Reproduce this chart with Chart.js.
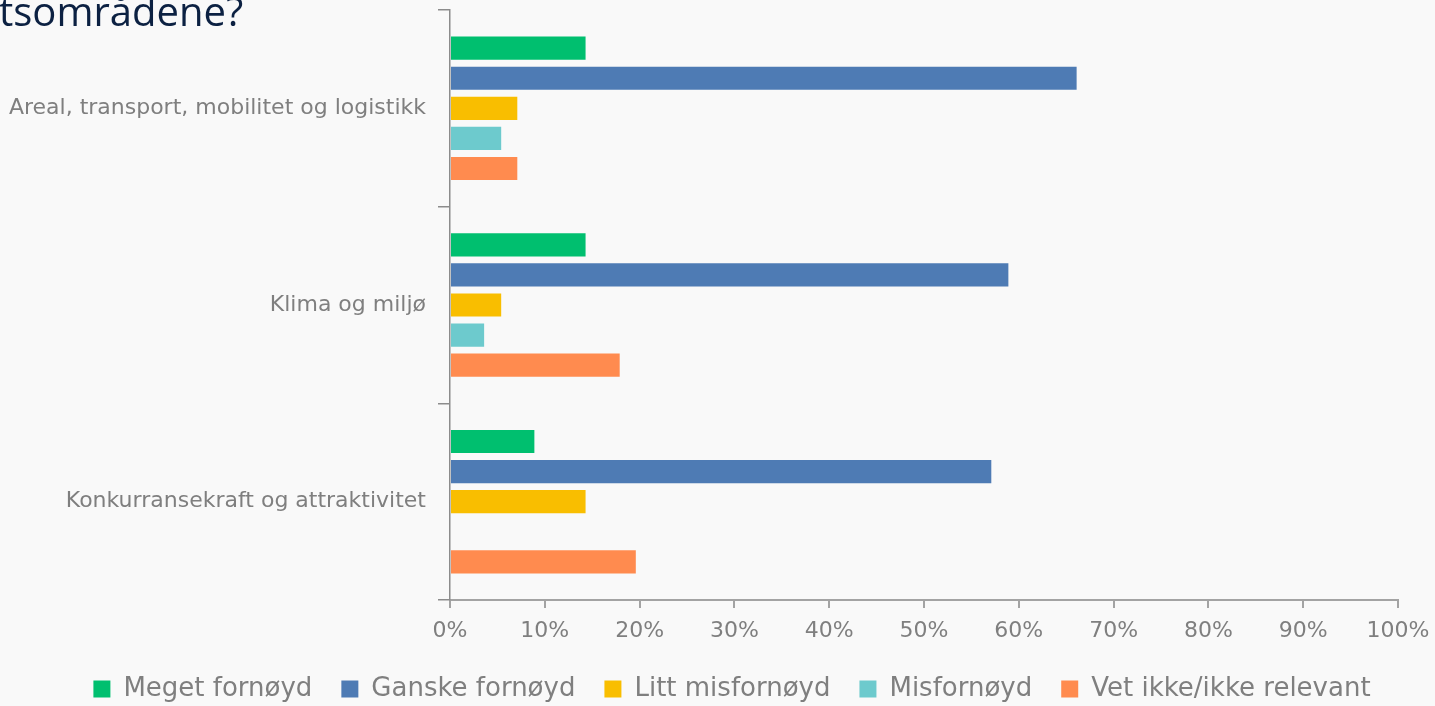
<!DOCTYPE html>
<html>
<head>
<meta charset="utf-8">
<script src="https://cdn.jsdelivr.net/npm/chart.js@4"></script>
<style>
    html, body { margin: 0; padding: 0; background: #f9f9f9; overflow: hidden; }
    #wrap { position: relative; width: 1435px; height: 706px; }
    #title {
        position: absolute; left: -1px; top: -17px;
        font-family: "Open Sans", sans-serif; font-size: 40px; color: #0c2142;
        white-space: nowrap;
    }
</style>
</head>
<body>
<div id="wrap">
    <canvas id="surveyChart" width="1435" height="706"></canvas>
    <div id="title">tsområdene?</div>
</div>
<script>
const categories = ['Areal, transport, mobilitet og logistikk', 'Klima og miljø', 'Konkurransekraft og attraktivitet'];
const seriesNames = ['Meget fornøyd', 'Ganske fornøyd', 'Litt misfornøyd', 'Misfornøyd', 'Vet ikke/ikke relevant'];
const megetFornoyd = [14.3, 14.3, 8.9];
const ganskeFornoyd = [66.1, 58.9, 57.1];
const littMisfornoyd = [7.1, 5.4, 14.3];
const misfornoyd = [5.4, 3.6, 0];
const vetIkke = [7.1, 17.9, 19.6];
const xTicks = [0, 10, 20, 30, 40, 50, 60, 70, 80, 90, 100];

const colors = ['#00bf6f', '#4e7bb4', '#f9be00', '#6dcacd', '#ff8b4f'];
const seriesValues = [megetFornoyd, ganskeFornoyd, littMisfornoyd, misfornoyd, vetIkke];

// nudge the legend to the right, the original is not centred on the canvas
const legendShift = {
    id: 'legendShift',
    afterLayout(chart) {
        if (!chart.legend) return;
        chart.legend.left += 33;
        chart.legend.right += 33;
    }
};

document.addEventListener("DOMContentLoaded", function() {
    const ctx = document.getElementById('surveyChart').getContext('2d');
    const gray = '#7f7f7f';
    const axisGray = '#a3a3a3';

    new Chart(ctx, {
        type: 'bar',
        data: {
            labels: categories,
            datasets: seriesNames.map((name, i) => ({
                label: name,
                data: seriesValues[i],
                backgroundColor: colors[i],
                borderWidth: 0,
                categoryPercentage: 0.765,
                barPercentage: 0.77
            }))
        },
        options: {
            indexAxis: 'y',
            responsive: false,
            animation: false,
            layout: { padding: { left: 0, right: 37, top: 10, bottom: -6 } },
            scales: {
                x: {
                    min: 0, max: 100,
                    afterBuildTicks: scale => { scale.ticks = xTicks.map(v => ({ value: v })); },
                    afterFit: scale => { scale.height = 47; scale.paddingLeft = 0; scale.paddingRight = 0; },
                    grid: { display: true, drawOnChartArea: false, tickLength: 8, color: axisGray, lineWidth: 2 },
                    border: { display: true, color: axisGray, width: 2 },
                    ticks: {
                        callback: v => v + '%',
                        color: gray,
                        padding: 10,
                        font: { family: 'DejaVu Sans', size: 22 }
                    }
                },
                y: {
                    afterFit: scale => { scale.width = 450; scale.paddingTop = 0; scale.paddingBottom = 0; },
                    grid: { display: true, drawOnChartArea: false, offset: true, tickLength: 12, color: '#8c8c8c', lineWidth: 1.5 },
                    border: { display: true, color: '#8c8c8c', width: 1.5 },
                    ticks: {
                        color: gray,
                        padding: 12,
                        font: { family: 'DejaVu Sans', size: 22 }
                    }
                }
            },
            plugins: {
                tooltip: { enabled: false },
                legend: {
                    position: 'bottom',
                    labels: {
                        color: gray,
                        boxWidth: 17,
                        boxHeight: 17,
                        padding: 29,
                        font: { family: 'DejaVu Sans', size: 26 }
                    }
                }
            }
        },
        plugins: [legendShift]
    });
});
</script>
</body>
</html>
